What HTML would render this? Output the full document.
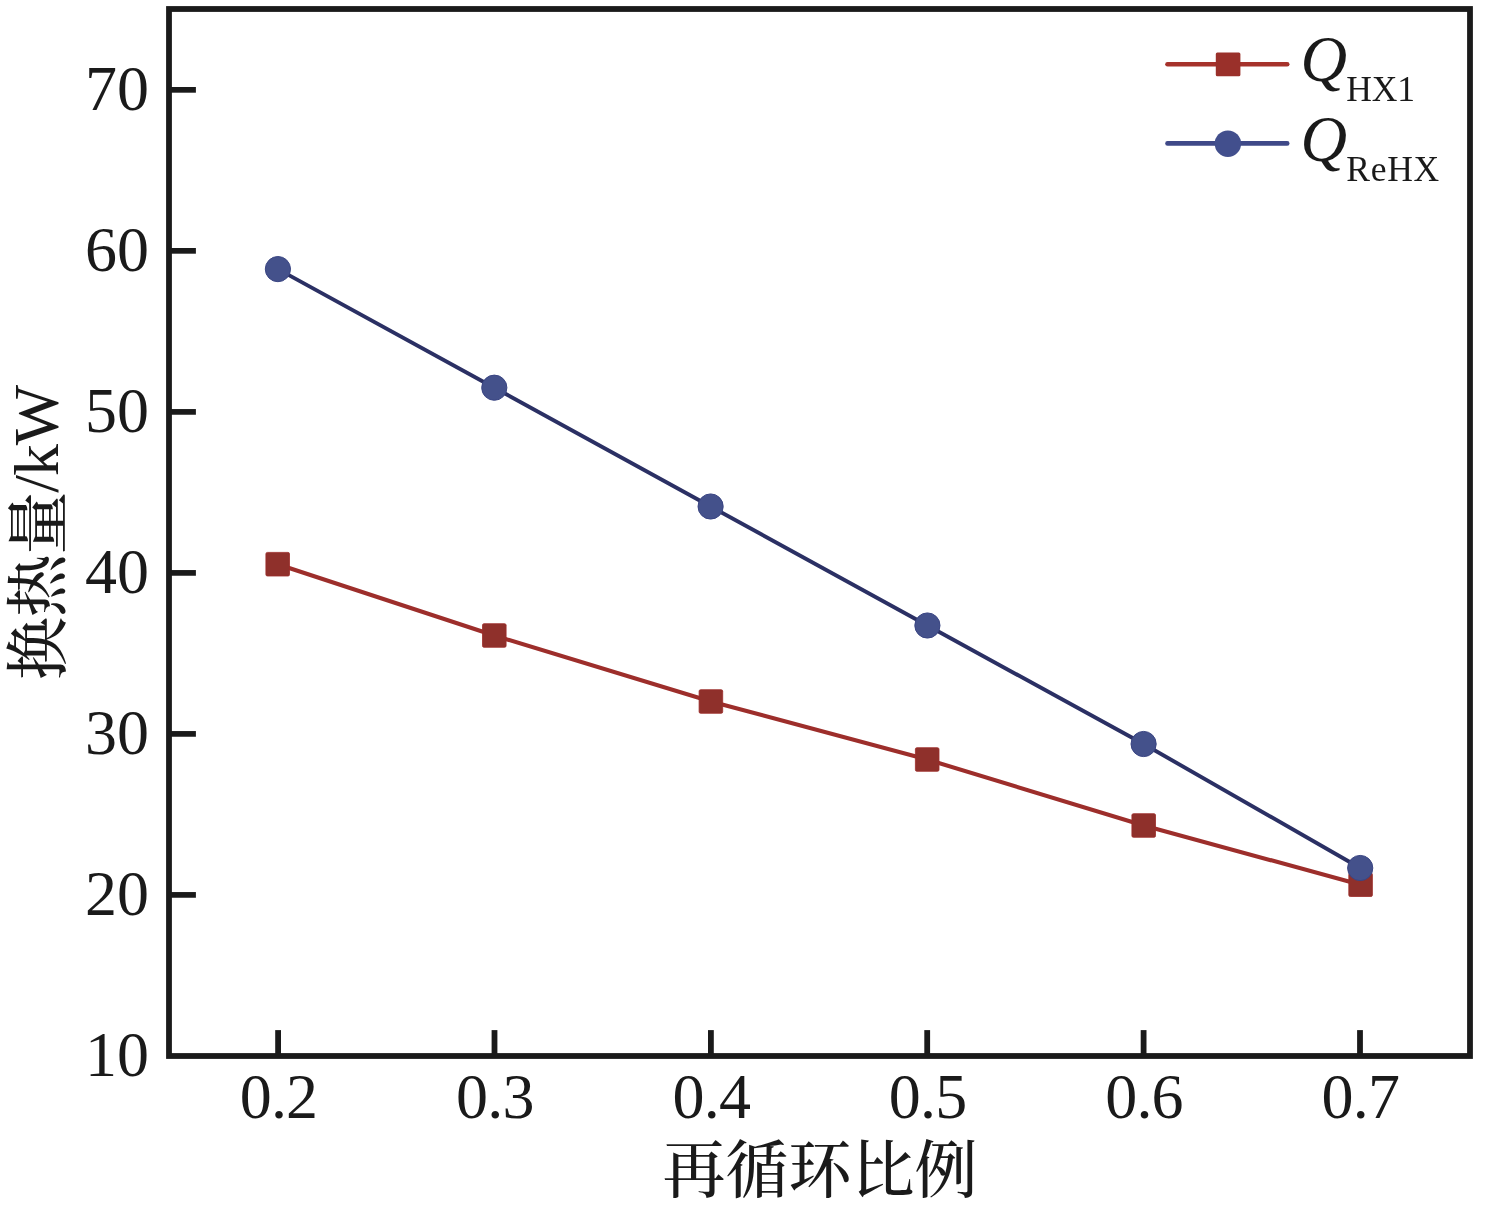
<!DOCTYPE html>
<html lang="zh"><head><meta charset="utf-8"><title>换热量</title>
<style>
html,body{margin:0;padding:0;background:#fff;}
body{width:1488px;height:1211px;overflow:hidden;}
svg{display:block;}
text{fill:#1a1a1a;}
.num{font-family:"Liberation Serif","Noto Serif CJK SC",serif;font-size:64px;}
.cjk{font-family:"Liberation Serif","Noto Serif CJK SC",serif;font-size:63px;font-weight:500;}
.lat{font-family:"Liberation Serif","Noto Serif CJK SC",serif;font-size:64px;font-weight:400;}
.q{font-family:"Liberation Serif",serif;font-style:italic;font-size:64.5px;}
.sub{font-family:"Liberation Serif",serif;font-size:35.5px;}
</style></head><body>
<svg width="1488" height="1211" viewBox="0 0 1488 1211">
<rect x="0" y="0" width="1488" height="1211" fill="#ffffff"/>

<rect x="169" y="9" width="1301" height="1047" fill="none" stroke="#1a1a1a" stroke-width="5.8"/>
<line x1="171" y1="89.85" x2="195.9" y2="89.85" stroke="#1a1a1a" stroke-width="5.7"/>
<line x1="171" y1="250.85" x2="195.9" y2="250.85" stroke="#1a1a1a" stroke-width="5.7"/>
<line x1="171" y1="411.90" x2="195.9" y2="411.90" stroke="#1a1a1a" stroke-width="5.7"/>
<line x1="171" y1="572.90" x2="195.9" y2="572.90" stroke="#1a1a1a" stroke-width="5.7"/>
<line x1="171" y1="733.90" x2="195.9" y2="733.90" stroke="#1a1a1a" stroke-width="5.7"/>
<line x1="171" y1="894.90" x2="195.9" y2="894.90" stroke="#1a1a1a" stroke-width="5.7"/>
<line x1="278.10" y1="1030.1" x2="278.10" y2="1054" stroke="#1a1a1a" stroke-width="5.8"/>
<line x1="494.50" y1="1030.1" x2="494.50" y2="1054" stroke="#1a1a1a" stroke-width="5.8"/>
<line x1="710.90" y1="1030.1" x2="710.90" y2="1054" stroke="#1a1a1a" stroke-width="5.8"/>
<line x1="927.20" y1="1030.1" x2="927.20" y2="1054" stroke="#1a1a1a" stroke-width="5.8"/>
<line x1="1143.60" y1="1030.1" x2="1143.60" y2="1054" stroke="#1a1a1a" stroke-width="5.8"/>
<line x1="1360.00" y1="1030.1" x2="1360.00" y2="1054" stroke="#1a1a1a" stroke-width="5.8"/>
<text class="num" x="149" y="110.2" text-anchor="end">70</text>
<text class="num" x="149" y="271.2" text-anchor="end">60</text>
<text class="num" x="149" y="432.3" text-anchor="end">50</text>
<text class="num" x="149" y="593.3" text-anchor="end">40</text>
<text class="num" x="149" y="754.3" text-anchor="end">30</text>
<text class="num" x="149" y="915.3" text-anchor="end">20</text>
<text class="num" x="149" y="1076.3" text-anchor="end">10</text>
<text class="num" x="278.5" y="1117.8" text-anchor="middle" letter-spacing="-0.8">0.2</text>
<text class="num" x="494.9" y="1117.8" text-anchor="middle" letter-spacing="-0.8">0.3</text>
<text class="num" x="711.3" y="1117.8" text-anchor="middle" letter-spacing="-0.8">0.4</text>
<text class="num" x="927.6" y="1117.8" text-anchor="middle" letter-spacing="-0.8">0.5</text>
<text class="num" x="1144.0" y="1117.8" text-anchor="middle" letter-spacing="-0.8">0.6</text>
<text class="num" x="1360.4" y="1117.8" text-anchor="middle" letter-spacing="-0.8">0.7</text>
<text class="cjk" transform="translate(820,1191.8)" text-anchor="middle">再循环比例</text>
<text class="cjk" transform="translate(58.2,679.9) rotate(-90)"><tspan dy="1.3" letter-spacing="-0.3">换热量</tspan><tspan class="lat" dy="-1.3" dx="-1" letter-spacing="-1.1">/kW</tspan></text>
<polyline points="277.7,564.2 494.3,635.5 710.9,701.5 927.2,759.5 1143.7,825.5 1360.6,884.7" fill="none" stroke="#9d2e2b" stroke-width="4.1" stroke-linejoin="round"/>
<rect x="265.9" y="552.4" width="23.6" height="23.6" rx="1.5" fill="#8f302b" stroke="#9c2c2a" stroke-width="0.8"/>
<rect x="482.5" y="623.7" width="23.6" height="23.6" rx="1.5" fill="#8f302b" stroke="#9c2c2a" stroke-width="0.8"/>
<rect x="699.1" y="689.7" width="23.6" height="23.6" rx="1.5" fill="#8f302b" stroke="#9c2c2a" stroke-width="0.8"/>
<rect x="915.4" y="747.7" width="23.6" height="23.6" rx="1.5" fill="#8f302b" stroke="#9c2c2a" stroke-width="0.8"/>
<rect x="1131.9" y="813.7" width="23.6" height="23.6" rx="1.5" fill="#8f302b" stroke="#9c2c2a" stroke-width="0.8"/>
<rect x="1348.8" y="872.9" width="23.6" height="23.6" rx="1.5" fill="#8f302b" stroke="#9c2c2a" stroke-width="0.8"/>
<polyline points="277.9,269.1 494.3,387.7 710.6,506.5 927.4,625.5 1143.6,744.0 1360.2,868.0" fill="none" stroke="#2b3064" stroke-width="3.9" stroke-linejoin="round"/>
<circle cx="277.9" cy="269.1" r="12.6" fill="#44518b" stroke="#3a4583" stroke-width="1"/>
<circle cx="494.3" cy="387.7" r="12.6" fill="#44518b" stroke="#3a4583" stroke-width="1"/>
<circle cx="710.6" cy="506.5" r="12.6" fill="#44518b" stroke="#3a4583" stroke-width="1"/>
<circle cx="927.4" cy="625.5" r="12.6" fill="#44518b" stroke="#3a4583" stroke-width="1"/>
<circle cx="1143.6" cy="744.0" r="12.6" fill="#44518b" stroke="#3a4583" stroke-width="1"/>
<circle cx="1360.2" cy="868.0" r="12.6" fill="#44518b" stroke="#3a4583" stroke-width="1"/>
<line x1="1167.5" y1="64.2" x2="1287.2" y2="64.2" stroke="#a6322b" stroke-width="4.6" stroke-linecap="round"/>
<rect x="1215.8" y="52.5" width="24.6" height="23.7" rx="1.5" fill="#9a302a"/>
<line x1="1167.5" y1="143.4" x2="1287.2" y2="143.4" stroke="#3f4988" stroke-width="4.6" stroke-linecap="round"/>
<circle cx="1227.9" cy="143.7" r="13.2" fill="#424f8d"/>
<text class="q" x="1300.6" y="80.6">Q</text>
<text class="sub" x="1346.3" y="100.7" letter-spacing="-0.2">HX1</text>
<text class="q" x="1300.6" y="161.1">Q</text>
<text class="sub" x="1346.3" y="181.3" letter-spacing="0.7">ReHX</text>
</svg>
</body></html>
